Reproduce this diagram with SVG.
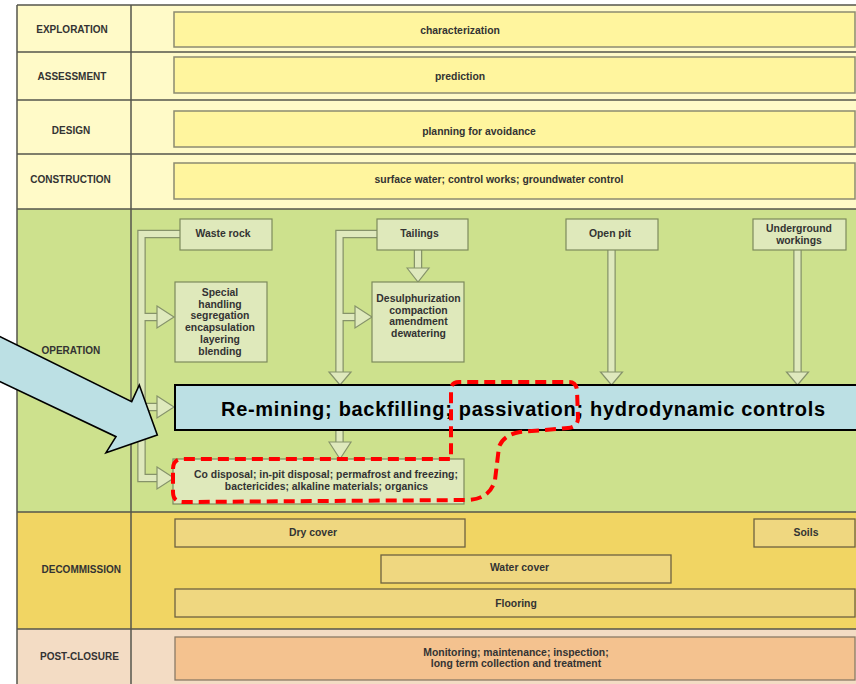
<svg xmlns="http://www.w3.org/2000/svg" width="856" height="684" viewBox="0 0 856 684">
  <style>
    .lbl { font-family: "Liberation Sans", Arial, sans-serif; font-weight: bold; font-size: 10px; fill: #333; }
    .txt { font-family: "Liberation Sans", Arial, sans-serif; font-weight: bold; font-size: 10.4px; fill: #333; text-anchor: middle; }
    .grid { stroke: #55554c; stroke-width: 1.5; fill: none; }
    .topbox { fill: #fff59e; stroke: #8c8a70; stroke-width: 1.5; }
    .opbox { fill: #dfe9bb; stroke: #7d8a5c; stroke-width: 1.2; }
    .decbox { fill: #efd780; stroke: #6e6240; stroke-width: 1.3; }
    .postbox { fill: #f4c28f; stroke: #8a7a66; stroke-width: 1.3; }
    .tube-out { fill: none; stroke: #86936a; stroke-width: 8.5; stroke-linejoin: miter; }
    .tube-in { fill: none; stroke: #dfe9bd; stroke-width: 6; stroke-linejoin: miter; }
    .head { fill: #dfe9bd; stroke: #86936a; stroke-width: 1.2; stroke-linejoin: miter; }
  </style>

  <!-- lane backgrounds -->
  <g id="lanes">
    <rect x="17" y="5" width="845" height="204" fill="#fffac8"/>
    <rect x="17" y="209" width="845" height="303" fill="#cde18d"/>
    <rect x="17" y="512" width="845" height="117" fill="#f1d563"/>
    <rect x="17" y="629" width="845" height="60" fill="#f3dcc4"/>
    <path class="grid" d="M17,5 V684 M131,5 V684 M17,5 H856 M17,52 H856 M17,100 H856 M17,154 H856 M17,209 H856 M17,512 H856 M17,629 H856"/>
  </g>

  <!-- lane labels -->
  <g id="lane-labels">
    <text class="lbl" x="72" y="32.5" text-anchor="middle">EXPLORATION</text>
    <text class="lbl" x="72" y="79.5" text-anchor="middle">ASSESSMENT</text>
    <text class="lbl" x="71" y="133.5" text-anchor="middle">DESIGN</text>
    <text class="lbl" x="70.5" y="182.5" text-anchor="middle">CONSTRUCTION</text>
    <text class="lbl" x="41.5" y="354">OPERATION</text>
    <text class="lbl" x="41.5" y="572.5">DECOMMISSION</text>
    <text class="lbl" x="40" y="660">POST-CLOSURE</text>
  </g>

  <!-- early-stage bars -->
  <g id="characterization">
    <rect class="topbox" x="174" y="12" width="681" height="35"/>
    <text class="txt" x="460" y="34">characterization</text>
  </g>
  <g id="prediction">
    <rect class="topbox" x="174" y="57" width="681" height="36"/>
    <text class="txt" x="460" y="80">prediction</text>
  </g>
  <g id="planning">
    <rect class="topbox" x="174" y="111" width="681" height="36"/>
    <text class="txt" x="479" y="135">planning for avoidance</text>
  </g>
  <g id="construction-controls">
    <rect class="topbox" x="174" y="163" width="681" height="36"/>
    <text class="txt" x="499" y="183">surface water; control works; groundwater control</text>
  </g>

  <!-- hollow flow arrows -->
  <g id="connectors">
    <g class="tube-out">
      <path d="M181,234 H141.5 V478 H158"/>
      <path d="M141.5,317 H158"/>
      <path d="M141.5,407 H158"/>
      <path d="M377,234 H339.5 V373"/>
      <path d="M339.5,317 H356"/>
      <path d="M339.5,429 V443"/>
      <path d="M418,250 V269"/>
      <path d="M611.5,250 V373"/>
      <path d="M797.5,250 V373"/>
    </g>
    <g class="tube-in">
      <path d="M181,234 H141.5 V478 H158"/>
      <path d="M141.5,317 H158"/>
      <path d="M141.5,407 H158"/>
      <path d="M377,234 H339.5 V373"/>
      <path d="M339.5,317 H356"/>
      <path d="M339.5,429 V443"/>
      <path d="M418,250 V269"/>
      <path d="M611.5,250 V373"/>
      <path d="M797.5,250 V373"/>
    </g>
    <polygon class="head" points="157,306 174,317 157,328"/>
    <polygon class="head" points="157,396 174,407 157,418"/>
    <polygon class="head" points="157,467 174,478 157,489"/>
    <polygon class="head" points="355,306 372,317 355,328"/>
    <polygon class="head" points="329,372 340,385 351,372"/>
    <polygon class="head" points="329,442 340,459 351,442"/>
    <polygon class="head" points="407,268 418,282 429,268"/>
    <polygon class="head" points="600.5,372 611.5,385 622.5,372"/>
    <polygon class="head" points="786.5,372 797.5,385 808.5,372"/>
  </g>

  <!-- operation nodes -->
  <g id="waste-rock">
    <rect class="opbox" x="180" y="219" width="92" height="31"/>
    <text class="txt" x="223" y="236.5">Waste rock</text>
  </g>
  <g id="tailings">
    <rect class="opbox" x="377" y="219" width="91" height="31"/>
    <text class="txt" x="419.5" y="236.5">Tailings</text>
  </g>
  <g id="open-pit">
    <rect class="opbox" x="566" y="219" width="92" height="31"/>
    <text class="txt" x="610" y="236.5">Open pit</text>
  </g>
  <g id="underground">
    <rect class="opbox" x="753" y="219" width="93" height="31"/>
    <text class="txt" x="799" y="232">Underground</text>
    <text class="txt" x="799" y="243.5">workings</text>
  </g>
  <g id="special-handling">
    <rect class="opbox" x="175" y="282" width="92" height="80"/>
    <text class="txt" x="220" y="296">Special</text>
    <text class="txt" x="220" y="307.7">handling</text>
    <text class="txt" x="220" y="319.4">segregation</text>
    <text class="txt" x="220" y="331.1">encapsulation</text>
    <text class="txt" x="220" y="342.8">layering</text>
    <text class="txt" x="220" y="354.5">blending</text>
  </g>
  <g id="desulphurization">
    <rect class="opbox" x="372" y="282" width="92" height="80"/>
    <text class="txt" x="418.5" y="302">Desulphurization</text>
    <text class="txt" x="418.5" y="313.7">compaction</text>
    <text class="txt" x="418.5" y="325.4">amendment</text>
    <text class="txt" x="418.5" y="337.1">dewatering</text>
  </g>
  <g id="co-disposal">
    <rect class="opbox" x="173" y="459" width="291" height="45"/>
    <text class="txt" x="326" y="478">Co disposal; in-pit disposal; permafrost and freezing;</text>
    <text class="txt" x="326.5" y="489.5">bactericides; alkaline materials; organics</text>
  </g>
  <g id="remining">
    <rect x="175" y="385" width="682" height="45" fill="#bce0e4" stroke="#000" stroke-width="2"/>
    <text x="523" y="416" font-family="Liberation Sans, Arial, sans-serif" font-weight="bold" font-size="20" fill="#000" text-anchor="middle" textLength="604" lengthAdjust="spacing">Re-mining; backfilling; passivation; hydrodynamic controls</text>
  </g>

  <!-- decommission nodes -->
  <g id="dry-cover">
    <rect class="decbox" x="175" y="519" width="290" height="28"/>
    <text class="txt" x="313" y="535.5">Dry cover</text>
  </g>
  <g id="soils">
    <rect class="decbox" x="754" y="519" width="101" height="28"/>
    <text class="txt" x="806" y="535.5">Soils</text>
  </g>
  <g id="water-cover">
    <rect class="decbox" x="381" y="555" width="290" height="28"/>
    <text class="txt" x="519.5" y="571">Water cover</text>
  </g>
  <g id="flooring">
    <rect class="decbox" x="175" y="589" width="680" height="28"/>
    <text class="txt" x="516" y="607">Flooring</text>
  </g>

  <!-- post-closure node -->
  <g id="monitoring">
    <rect class="postbox" x="175" y="637" width="680" height="43"/>
    <text class="txt" x="516" y="655.5">Monitoring; maintenance; inspection;</text>
    <text class="txt" x="516" y="666.5">long term collection and treatment</text>
  </g>

  <!-- call-out arrow -->
  <g id="callout-arrow">
    <polygon points="-5,334.2 131.7,401.7 139.3,385 157.3,435 106,452.7 116,436.7 -5,379.3" fill="#bce0e4" stroke="#000" stroke-width="1.6" stroke-linejoin="miter"/>
  </g>

  <!-- highlight outline -->
  <g id="highlight">
    <path d="M173,469 Q173,459 183,459 H451 V390 Q451,382 459,382 H569 Q576,382 577,390 L578,418 Q578,427 568,428 L520,432 Q503,435 499,447 L495,480 Q490,499 468,500 L183,502 Q173,502 173,492 Z" fill="none" stroke="#ff0000" stroke-width="4" stroke-dasharray="11 6"/>
  </g>
</svg>
